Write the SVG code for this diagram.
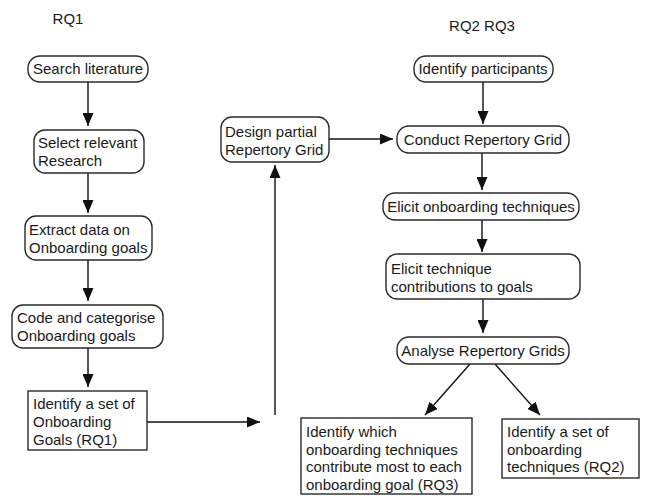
<svg xmlns="http://www.w3.org/2000/svg" width="646" height="496" viewBox="0 0 646 496">
<style>
text{font-family:"Liberation Sans",Arial,sans-serif;font-size:15px;fill:#1a1a1a}
.b{fill:#fff;stroke:#2a2a2a;stroke-width:1.4}
.c{text-anchor:middle}
.e{stroke:#111;stroke-width:1.4;fill:none;marker-end:url(#ah)}
</style>
<defs>
<marker id="ah" viewBox="0 0 13 11" refX="13" refY="5.5" markerWidth="13" markerHeight="11" markerUnits="userSpaceOnUse" orient="auto">
<path d="M0,0 L13,5.5 L0,11 z" fill="#111"/>
</marker>
</defs>
<rect width="646" height="496" fill="#fff"/>
<text x="68" y="24" class="c">RQ1</text>
<text x="482" y="31" class="c">RQ2 RQ3</text>
<g id="connectors">
<path class="e" d="M88,82 V126"/>
<path class="e" d="M88,173 V213"/>
<path class="e" d="M88,260 V301"/>
<path class="e" d="M88,348 V387"/>
<path class="e" d="M147,422 H260"/>
<path class="e" d="M275,415 V165"/>
<path class="e" d="M329,139 H393"/>
<path class="e" d="M483,82 V124"/>
<path class="e" d="M482,153 V190"/>
<path class="e" d="M482,220 V252"/>
<path class="e" d="M483,299 V333"/>
<path class="e" d="M470,364 L425,415"/>
<path class="e" d="M495,364 L540,415"/>
</g>
<g id="search">
<rect class="b" x="28" y="56" width="120" height="26" rx="12"/>
<text x="88" y="74" class="c">Search literature</text>
</g>
<g id="select">
<rect class="b" x="34" y="130" width="110" height="43" rx="11"/>
<text x="38" y="148">Select relevant</text>
<text x="38" y="166">Research</text>
</g>
<g id="extract">
<rect class="b" x="25" y="216" width="127" height="44" rx="11"/>
<text x="29" y="235">Extract data on</text>
<text x="29" y="253">Onboarding goals</text>
</g>
<g id="code">
<rect class="b" x="12" y="305" width="151" height="43" rx="11"/>
<text x="17" y="323">Code and categorise</text>
<text x="17" y="341">Onboarding goals</text>
</g>
<g id="goals">
<rect class="b" x="28" y="391" width="119" height="59"/>
<text x="33" y="409">Identify a set of</text>
<text x="33" y="427">Onboarding</text>
<text x="33" y="445">Goals (RQ1)</text>
</g>
<g id="design">
<rect class="b" x="221" y="117" width="108" height="45" rx="11"/>
<text x="225" y="137">Design partial</text>
<text x="225" y="155">Repertory Grid</text>
</g>
<g id="participants">
<rect class="b" x="414" y="56" width="139" height="26" rx="12"/>
<text x="483" y="74" class="c">Identify participants</text>
</g>
<g id="conduct">
<rect class="b" x="397" y="126" width="172" height="27" rx="12"/>
<text x="483" y="145" class="c">Conduct Repertory Grid</text>
</g>
<g id="elicit1">
<rect class="b" x="383" y="193" width="196" height="27" rx="12"/>
<text x="481" y="212" class="c">Elicit onboarding techniques</text>
</g>
<g id="elicit2">
<rect class="b" x="386" y="254" width="194" height="45" rx="11"/>
<text x="391" y="274">Elicit technique</text>
<text x="391" y="292">contributions to goals</text>
</g>
<g id="analyse">
<rect class="b" x="397" y="337" width="172" height="27" rx="12"/>
<text x="483" y="356" class="c">Analyse Repertory Grids</text>
</g>
<g id="which">
<rect class="b" x="301" y="418" width="171" height="76"/>
<text x="306" y="437">Identify which</text>
<text x="306" y="455">onboarding techniques</text>
<text x="306" y="472">contribute most to each</text>
<text x="306" y="490">onboarding goal (RQ3)</text>
</g>
<g id="techniques">
<rect class="b" x="502" y="419" width="137" height="59"/>
<text x="507" y="437">Identify a set of</text>
<text x="507" y="455">onboarding</text>
<text x="507" y="472">techniques (RQ2)</text>
</g>
</svg>
